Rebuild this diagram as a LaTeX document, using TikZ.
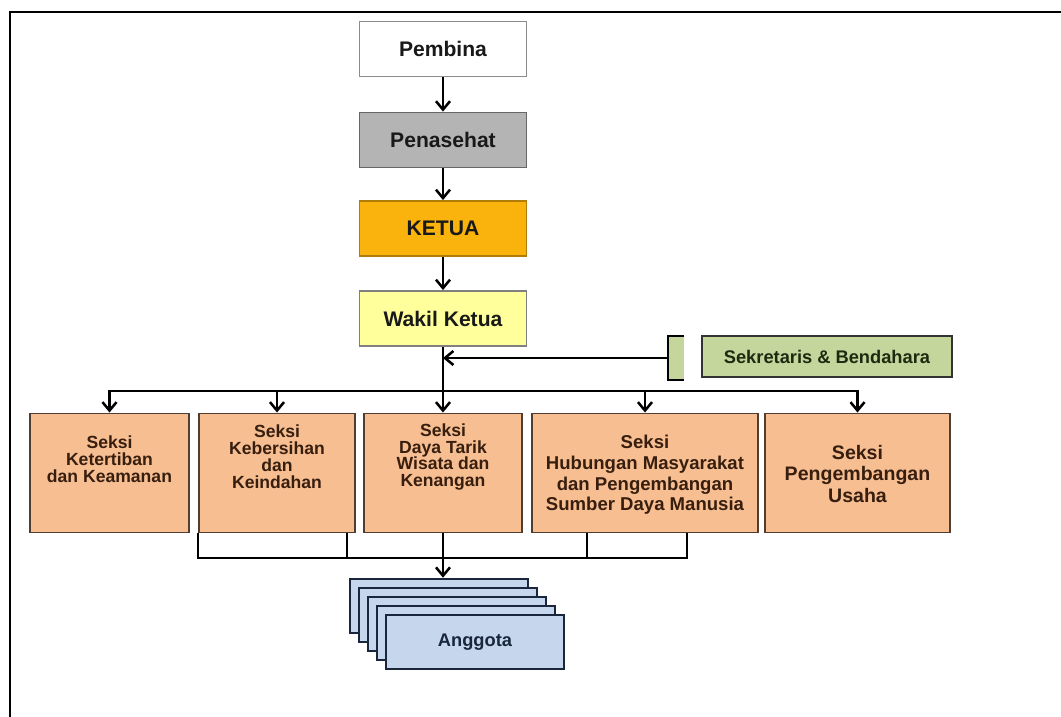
\documentclass[tikz,border=0pt]{standalone}
\usepackage{fontspec}
\setmainfont{Liberation Sans}
\usetikzlibrary{arrows.meta}

\definecolor{peach}{RGB}{247,190,146}
\definecolor{sage}{RGB}{196,214,156}
\definecolor{paleblue}{RGB}{198,214,236}
\definecolor{amber}{RGB}{250,178,12}
\definecolor{lemon}{RGB}{255,255,155}
\definecolor{midgray}{RGB}{180,180,180}
\definecolor{brownline}{RGB}{80,62,50}
\definecolor{browntext}{RGB}{55,30,14}
\definecolor{navy}{RGB}{25,38,60}
\definecolor{darkgreen}{RGB}{30,42,16}

\begin{document}
\begin{tikzpicture}[x=0.025cm,y=-0.025cm,
	box/.style={draw, line width=1.3pt, minimum width=167*0.025cm, minimum height=55*0.025cm, font=\bfseries\fontsize{15}{17}\selectfont, text=black!90},
	seksi/.style={draw=brownline, fill=peach, line width=1.4pt, minimum height=119*0.025cm},
	seksitext/.style={align=center, text=browntext},
	kartu/.style={draw=navy, fill=paleblue, line width=1.8pt, minimum width=178*0.025cm, minimum height=54*0.025cm},
	panah/.style={-{Straight Barb[length=6pt,width=10pt,line width=1.8pt]}, line width=1.9pt},
	garis/.style={line width=1.9pt}]
	\useasboundingbox (0,0) rectangle (1061,717);
	% bingkai
	\draw[line width=1.4pt] (10,717) -- (10,12) -- (1061,12);
	% pimpinan
	\node[box, draw=black!45, fill=white] (pembina) at (443,49) {Pembina};
	\node[box, draw=black!60, fill=midgray] (penasehat) at (443,140) {Penasehat};
	\node[box, draw=amber!70!black, fill=amber] (ketua) at (443,228.5) {KETUA};
	\node[box, draw=black!50, fill=lemon] (wakil) at (443,318.5) {Wakil Ketua};
	\draw[panah] (pembina) -- (penasehat);
	\draw[panah] (penasehat) -- (ketua);
	\draw[panah] (ketua) -- (wakil);
	% sekretaris
	\node[draw=black!80, fill=sage, line width=1.3pt, minimum width=250*0.025cm, minimum height=41*0.025cm, font=\bfseries\fontsize{13}{15}\selectfont, text=darkgreen] (sekben) at (827,356.5) {Sekretaris \& Bendahara};
	\node[fill=sage, minimum width=16*0.025cm, minimum height=44*0.025cm, inner sep=0pt] (sekpotong) at (676,358) {};
	\draw[line width=1.3pt] (sekpotong.north east) -- (sekpotong.north west) -- (sekpotong.south west) -- (sekpotong.south east);
	\draw[panah] (sekpotong.west) -- (sekpotong.west -| wakil.south);
	% seksi-seksi
	\foreach \n/\x/\w in {1/109.5/159, 2/277/156, 3/443/158, 4/645/226, 5/857.5/185}
		\node[seksi, minimum width=\w*0.025cm] (s\n) at (\x,473) {};
	\node[seksitext, font=\bfseries\fontsize{12.5}{12}\selectfont] (t1) at (109.5,459) {Seksi\\Ketertiban\\dan Keamanan};
	\node[seksitext, font=\bfseries\fontsize{12.5}{12}\selectfont] (t2) at (277,457) {Seksi\\Kebersihan\\dan\\Keindahan};
	\node[seksitext, font=\bfseries\fontsize{12.5}{12}\selectfont] (t3) at (443,457) {Seksi\\Daya Tarik\\Wisata dan\\Kenangan};
	\node[seksitext, font=\bfseries\fontsize{13.2}{14.7}\selectfont] (t4) at (645,475) {Seksi\\Hubungan Masyarakat\\dan Pengembangan\\Sumber Daya Manusia};
	\node[seksitext, font=\bfseries\fontsize{13.9}{15.6}\selectfont] (t5) at (857.5,474) {Seksi\\Pengembangan\\Usaha};
	\coordinate (cabang) at (443,391);
	\draw[panah] (wakil) -- (s3);
	\foreach \n in {1,2,4,5}
		\draw[panah] (cabang) -| (s\n.north);
	% anggota
	\foreach \i in {0,...,3}
		\node[kartu] (kartu\i) at (439+9*\i,606+9*\i) {};
	\node[kartu, font=\bfseries\fontsize{13}{15}\selectfont, text=navy] (anggota) at (475,642) {Anggota};
	\coordinate (kumpul) at (443,558);
	\coordinate (b1) at (347,533);
	\coordinate (b2) at (587,533);
	\coordinate (b3) at (687,533);
	\draw[garis] (s2.south west) |- (b3 |- kumpul) -- (b3);
	\draw[garis] (b1) -- (b1 |- kumpul);
	\draw[garis] (b2) -- (b2 |- kumpul);
	\draw[panah] (s3.south) -- (s3.south |- kartu0.north);
\end{tikzpicture}
\end{document}
